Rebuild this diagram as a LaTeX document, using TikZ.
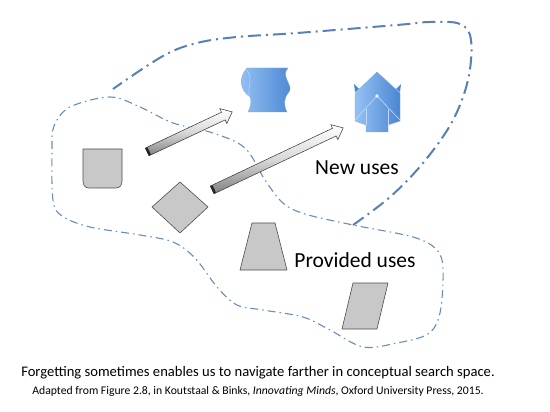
\documentclass[tikz,border=0pt]{standalone}
\usepackage{fontspec}
\setmainfont{Carlito}
\usetikzlibrary{shapes.arrows,calc}
\definecolor{loopblue}{RGB}{88,128,178}
\definecolor{shapegray}{RGB}{200,200,200}
\definecolor{iconlight}{RGB}{150,194,244}
\definecolor{icondark}{RGB}{74,134,210}

\begin{document}
\begin{tikzpicture}[x=1pt,y=-1pt,
    outerloop/.style={loopblue, line width=2pt, dash pattern=on 13pt off 5pt on 2pt off 5pt},
    innerloop/.style={loopblue!90, line width=1.1pt, dash pattern=on 8pt off 4pt on 1.5pt off 4pt},
    grayshape/.style={fill=shapegray, draw=black!70, line width=0.6pt, line join=round},
    iconshape/.style={left color=iconlight, right color=icondark, draw=icondark!70, line width=0.3pt},
    blockarrow/.style={single arrow, draw=black!80, line width=0.5pt, top color=white, bottom color=black!50,
        middle color=black!15, inner sep=4pt, single arrow head extend=4pt, single arrow tip angle=80},
    uselabel/.style={font=\fontsize{21.5}{25}\selectfont}]
    \useasboundingbox (0,0) rectangle (550,412);

    % search space regions
    \draw[innerloop] plot[smooth cycle, tension=0.55] coordinates {
        (110,97) (140,107) (173,123) (213,133) (245,148) (265,180) (283,203)
        (305,214) (353,225) (413,237) (437,250) (443,270) (440,313) (428,334)
        (397,343) (363,347) (330,330) (303,317) (263,310) (237,305) (217,287)
        (195,258) (173,242) (140,235) (90,227) (62,216) (53,200) (52,150)
        (54,126) (70,107)};
    \draw[outerloop] plot[smooth, tension=0.6] coordinates {
        (353,225) (390,197) (423,163) (452,122) (468,80) (471,40) (460,24)
        (430,22) (397,25) (297,33) (237,37) (197,43) (163,56) (113,89)};

    % provided uses
    \draw[grayshape] (83,149) -- (83,181) .. controls (83,185) and (85,188) .. (89,188)
        -- (116,188) .. controls (120,188) and (122,185) .. (122,181) -- (122,149) -- cycle;
    \draw[grayshape] (180,182) -- (208,207) -- (180,233) -- (152,207) -- cycle;
    \draw[grayshape] (252,223) -- (275,223) -- (287,270) -- (240,270) -- cycle;
    \draw[grayshape] (353,283) -- (388,283) -- (377,329) -- (342,329) -- cycle;

    % new uses
    \draw[iconshape] (247,68) -- (288,68) .. controls (280,76) and (294,86) .. (289,92)
        .. controls (284,98) and (283,104) .. (287,112) -- (248,112)
        .. controls (252,104) and (251,100) .. (250,97) .. controls (240,90) and (238,78) .. (247,68) -- cycle;
    \draw[iconlight!70, line width=0.6pt] (247,70) .. controls (254,80) and (246,90) .. (250,97);
    \fill[icondark] (355,92) -- (354,84) -- (359,89) -- cycle;
    \fill[icondark] (400,92) -- (401,84) -- (396,89) -- cycle;
    \draw[iconshape] (377,72) -- (400,93) -- (400,121) -- (388,125) -- (388,132) -- (366,132)
        -- (366,125) -- (355,121) -- (355,93) -- cycle;
    \draw[iconlight!60, line width=0.6pt] (355,120) -- (377,96) -- (400,120);
    \draw[iconlight!60, line width=0.6pt] (366,109) -- (366,125) (388,109) -- (388,125);
    \fill[white!80!iconlight] (377,96) circle[radius=1.8];

    % forgetting moves
    \coordinate (t1) at (147,152);
    \coordinate (h1) at (232,112);
    \coordinate (t2) at (212,190);
    \coordinate (h2) at (343,128);
    \foreach \t/\h in {t1/h1, t2/h2} {
        \path let \p1=($(\h)-(\t)$), \n1={atan2(\y1,\x1)}, \n2={veclen(\x1,\y1)} in
            node[blockarrow, minimum height=\n2, rotate=\n1, anchor=tail] (arr-\t) at (\t) {};
        \draw[black!85, line width=8pt] (\t) -- ($(\t)!2.5pt!(\h)$);
    }

    \node[uselabel] (newuses) at (357,168) {New uses};
    \node[uselabel] (provided) at (355,260) {Provided uses};

    \node[font=\fontsize{14.6}{17}\selectfont] (caption) at (258,373)
        {Forgetting sometimes enables us to navigate farther in conceptual search space.};
    \node[font=\fontsize{11.7}{14}\selectfont] (source) at (258,391)
        {Adapted from Figure 2.8, in Koutstaal \& Binks, \textit{Innovating Minds}, Oxford University Press, 2015.};
\end{tikzpicture}
\end{document}
